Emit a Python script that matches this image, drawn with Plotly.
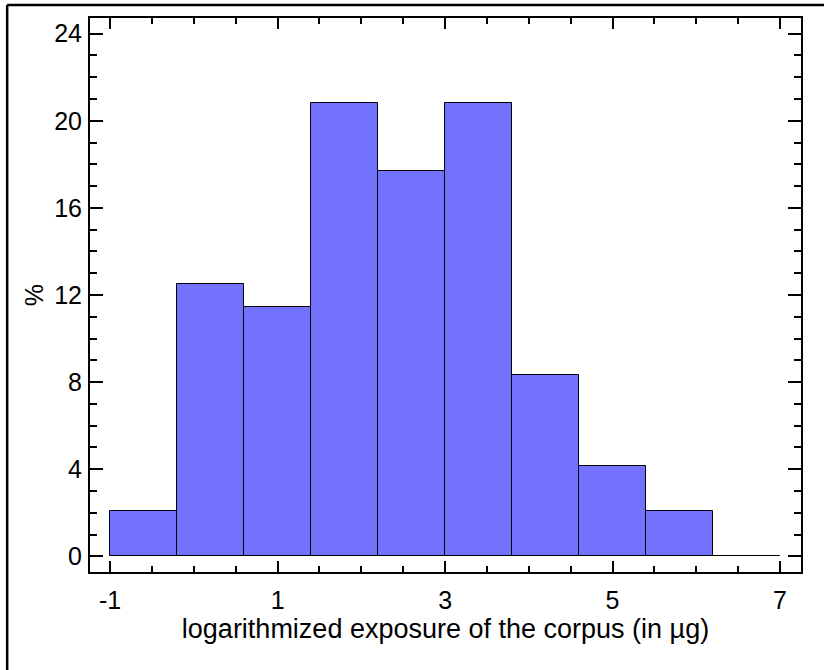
import plotly.graph_objects as go

# Data
bin_edges = [-1.0, -0.2, 0.6, 1.4, 2.2, 3.0, 3.8, 4.6, 5.4, 6.2, 7.0]
percent = [2.08, 12.50, 11.46, 20.83, 17.71, 20.83, 8.33, 4.17, 2.08, 0.0]
x_tick_vals = [-1, 1, 3, 5, 7]
y_tick_vals = [0, 4, 8, 12, 16, 20, 24]

centers = [(bin_edges[i] + bin_edges[i + 1]) / 2 for i in range(len(percent))]
widths = [bin_edges[i + 1] - bin_edges[i] for i in range(len(percent))]

fig = go.Figure()
fig.add_trace(go.Bar(
    x=centers, y=percent, width=widths,
    marker=dict(color="#7272FF", line=dict(color="black", width=1)),
    hoverinfo="x+y",
))

font_family = "Liberation Sans, Arial, Helvetica, sans-serif"

fig.update_layout(
    width=824, height=670,
    margin=dict(l=90, r=23, t=18, b=98),
    paper_bgcolor="white", plot_bgcolor="white",
    showlegend=False,
    bargap=0,
    font=dict(family=font_family, size=22, color="black"),
    shapes=[
        dict(type="line", xref="paper", yref="paper", x0=-0.1165, x1=-0.1165, y0=-0.3, y1=1.0235,
             line=dict(color="black", width=2.5)),
        dict(type="line", xref="paper", yref="paper", x0=-0.1165, x1=1.2, y0=1.0235, y1=1.0235,
             line=dict(color="black", width=2.5)),
    ],
)

fig.update_xaxes(
    range=[-1.24, 7.25],
    tickmode="array", tickvals=x_tick_vals, ticktext=[str(v) for v in x_tick_vals],
    ticks="inside", ticklen=11, tickwidth=1.5, tickcolor="black",
    minor=dict(dtick=0.5, tick0=-1, ticks="inside", ticklen=6, tickwidth=1.5, tickcolor="black"),
    showline=True, linecolor="black", linewidth=2, mirror="allticks",
    showgrid=False, zeroline=False,
    tickfont=dict(size=25),
    ticklabelstandoff=5,
    title=dict(text="logarithmized exposure of the corpus (in µg)", font=dict(size=27), standoff=1),
)
fig.update_yaxes(
    range=[-0.72, 24.72],
    tickmode="array", tickvals=y_tick_vals, ticktext=[str(v) for v in y_tick_vals],
    ticks="inside", ticklen=13, tickwidth=1.5, tickcolor="black",
    minor=dict(dtick=1, tick0=0, ticks="inside", ticklen=7, tickwidth=1.5, tickcolor="black"),
    showline=True, linecolor="black", linewidth=2, mirror="allticks",
    showgrid=False, zeroline=False,
    tickfont=dict(size=25),
    ticklabelstandoff=1,
    title=dict(text="%", font=dict(size=25), standoff=3),
)

fig.write_html("out.html", config={"displayModeBar": False},
               post_script="document.body.style.margin='0px';")
